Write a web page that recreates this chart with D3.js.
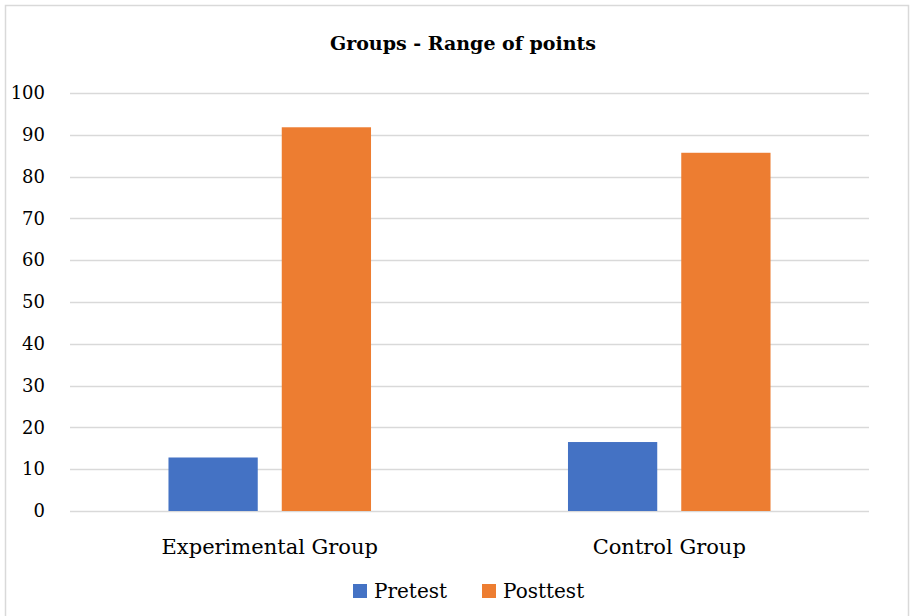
<!DOCTYPE html>
<html>
<head>
<meta charset="utf-8">
<script src="https://cdn.jsdelivr.net/npm/d3@7"></script>
<style>
  body { margin: 0; background: #fff; }
  text { font-family: "DejaVu Serif", "Liberation Serif", serif; fill: #000; }
</style>
</head>
<body>
<svg id="chart"></svg>
<script>
// data
var categories = ["Experimental Group", "Control Group"];
var seriesNames = ["Pretest", "Posttest"];
var pretest = [12.8, 16.5];
var posttest = [91.8, 85.7];
var yTicks = [0, 10, 20, 30, 40, 50, 60, 70, 80, 90, 100];
var colors = ["#4472C4", "#ED7D31"];

var W = 914, H = 616;
var svg = d3.select("#chart").attr("width", W).attr("height", H);

// outer frame
svg.append("rect")
  .attr("x", 5.5).attr("y", 5.5)
  .attr("width", 903).attr("height", 620)
  .attr("fill", "none").attr("stroke", "#d9d9d9").attr("stroke-width", 1.5);

var plotL = 70, plotR = 869, plotT = 93, plotB = 511;

var y = d3.scaleLinear().domain([0, 100]).range([plotB, plotT]);
var x0 = d3.scaleBand().domain(categories).range([plotL, plotR])
  .paddingInner(0.493).paddingOuter(0.2465);
var x1 = d3.scaleBand().domain(seriesNames).range([0, x0.bandwidth()])
  .paddingInner(0.212).paddingOuter(0);

// gridlines
svg.append("g").selectAll("line").data(yTicks).enter().append("line")
  .attr("x1", plotL).attr("x2", plotR)
  .attr("y1", function(d){ return Math.round(y(d)) + 0.5; })
  .attr("y2", function(d){ return Math.round(y(d)) + 0.5; })
  .attr("stroke", "#d9d9d9").attr("stroke-width", 1.5);

// y axis labels
var yAxis = d3.axisLeft(y).tickValues(yTicks).tickSize(0).tickPadding(0);
var gy = svg.append("g").attr("transform", "translate(45,0)").call(yAxis);
gy.select(".domain").remove();
gy.selectAll("text").style("font-size", "18px").attr("font-family", null).attr("fill", "#000");

// bars
var rows = categories.map(function(c, i){
  return { cat: c, vals: [pretest[i], posttest[i]] };
});
var groups = svg.append("g").selectAll("g").data(rows).enter().append("g")
  .attr("transform", function(d){ return "translate(" + x0(d.cat) + ",0)"; });
groups.selectAll("rect").data(function(d){
    return d.vals.map(function(v, j){ return { s: seriesNames[j], v: v, j: j }; });
  }).enter().append("rect")
  .attr("x", function(d){ return x1(d.s); })
  .attr("width", x1.bandwidth())
  .attr("y", function(d){ return y(d.v); })
  .attr("height", function(d){ return y(0) - y(d.v); })
  .attr("fill", function(d){ return colors[d.j]; });

// category labels
var xAxis = d3.axisBottom(x0).tickSize(0).tickPadding(0);
var gx = svg.append("g").attr("transform", "translate(0," + (plotB + 28) + ")").call(xAxis);
gx.select(".domain").remove();
gx.selectAll("text").style("font-size", "21px").attr("font-family", null).attr("fill", "#000");

// title
svg.append("text")
  .attr("x", 463).attr("y", 50)
  .attr("text-anchor", "middle")
  .style("font-size", "19px").style("font-weight", "bold")
  .text("Groups - Range of points");

// legend
var legendX = [353, 482];
var lg = svg.append("g").selectAll("g").data(seriesNames).enter().append("g")
  .attr("transform", function(d, i){ return "translate(" + legendX[i] + ",584)"; });
lg.append("rect").attr("width", 14).attr("height", 14)
  .attr("fill", function(d, i){ return colors[i]; });
lg.append("text").attr("x", 21).attr("y", 14)
  .style("font-size", "20px")
  .text(function(d){ return d; });
</script>
</body>
</html>
